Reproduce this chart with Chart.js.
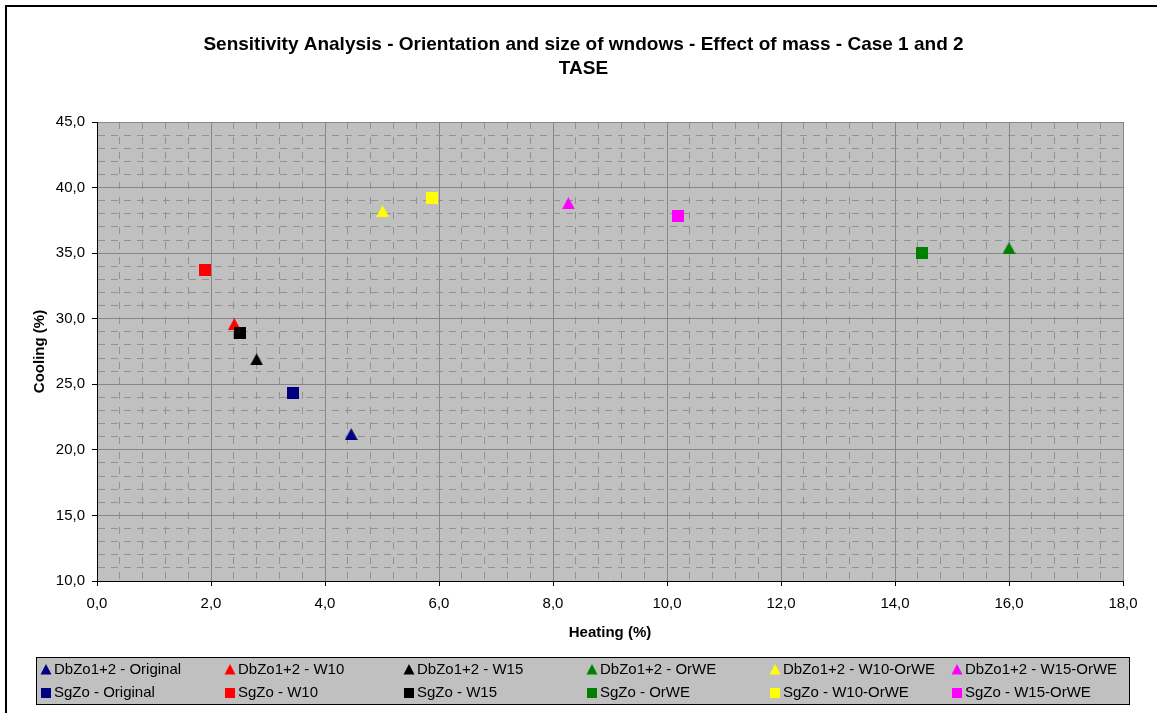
<!DOCTYPE html>
<html>
<head>
<meta charset="utf-8">
<title>Sensitivity Analysis - TASE</title>
<script src="https://cdn.jsdelivr.net/npm/chart.js@4/dist/chart.umd.min.js"></script>
<style>
    html, body { margin: 0; padding: 0; background: #ffffff; }
    #wrap { position: relative; width: 1157px; height: 713px; }
</style>
</head>
<body>
<div id="wrap"><canvas id="myChart"></canvas></div>
<script>
    'use strict';

    // series (one point each), legend order: row 1 = DbZo1+2, row 2 = SgZo
    var seriesNames = [
        'DbZo1+2 - Original', 'DbZo1+2 - W10', 'DbZo1+2 - W15',
        'DbZo1+2 - OrWE', 'DbZo1+2 - W10-OrWE', 'DbZo1+2 - W15-OrWE',
        'SgZo - Original', 'SgZo - W10', 'SgZo - W15',
        'SgZo - OrWE', 'SgZo - W10-OrWE', 'SgZo - W15-OrWE'
    ];
    var heating = [4.46, 2.41, 2.80, 16.00, 5.01, 8.27, 3.44, 1.90, 2.51, 14.47, 5.88, 10.20];
    var cooling = [21.2, 29.6, 26.9, 35.4, 38.2, 38.8, 24.3, 33.7, 28.9, 35.0, 39.2, 37.8];

    var heatingTicks = [0, 2, 4, 6, 8, 10, 12, 14, 16, 18];
    var coolingTicks = [10, 15, 20, 25, 30, 35, 40, 45];

    var seriesColors = [ "#000080", "#FF0000", "#000000", "#008000", "#FFFF00", "#FF00FF",
                         "#000080", "#FF0000", "#000000", "#008000", "#FFFF00", "#FF00FF" ];
    var seriesMarkers = [ 'triangle', 'triangle', 'triangle', 'triangle', 'triangle', 'triangle',
                          'rect', 'rect', 'rect', 'rect', 'rect', 'rect' ];

    var FONT = '"Liberation Sans", Arial, sans-serif';
    Chart.defaults.font.family = FONT;
    Chart.defaults.color = '#000000';

    function isMajor(list, v) {
        var r = Math.round(v * 10) / 10;
        return list.indexOf(r) !== -1;
    }
    function fmt(v) {
        return v.toFixed(1).replace('.', ',');
    }
    function tickValue(ctx) {
        return ctx && ctx.tick ? ctx.tick.value : null;
    }

    // excel-like marker, centred on its bounding box
    function markerCanvas(kind, color, w, h) {
        var cv = document.createElement('canvas');
        cv.width = w;
        cv.height = h;
        var g = cv.getContext('2d');
        g.fillStyle = color;
        g.beginPath();
        if (kind === 'triangle') {
            g.moveTo(w / 2, 0);
            g.lineTo(w, h);
            g.lineTo(0, h);
            g.closePath();
        } else {
            g.rect(0, 0, w, h);
        }
        g.fill();
        return cv;
    }

    var datasets = seriesNames.map(function(name, i) {
        var tri = seriesMarkers[i] === 'triangle';
        return {
            label : name,
            data : [ { x : heating[i], y : cooling[i] } ],
            pointStyle : tri ? markerCanvas('triangle', seriesColors[i], 13, 12) : markerCanvas('rect', seriesColors[i], 12, 12),
            pointRadius : 7,
            markerKind : seriesMarkers[i],
            markerColor : seriesColors[i],
            order : tri ? 1 : 0
        };
    });

    // grey plot area + outer frame + legend box drawn on the canvas
    var legendCols = [ 46, 230, 409, 592, 775, 957 ];
    var legendRows = [ 669.5, 693 ];

    var decor = {
        id : 'decor',
        beforeDraw : function(chart) {
            var a = chart.chartArea, c = chart.ctx;
            c.save();
            c.fillStyle = '#C0C0C0';
            c.fillRect(a.left, a.top, a.right - a.left, a.bottom - a.top);
            c.restore();
        },
        afterDraw : function(chart) {
            var c = chart.ctx;
            c.save();
            c.strokeStyle = '#000000';
            c.lineWidth = 2;
            c.strokeRect(6, 6, 1300, 900);

            c.fillStyle = '#C0C0C0';
            c.fillRect(36, 657, 1093, 47);
            c.lineWidth = 1;
            c.strokeRect(36.5, 657.5, 1093, 47);

            c.font = '15px ' + FONT;
            c.textBaseline = 'middle';
            c.textAlign = 'left';
            chart.data.datasets.forEach(function(ds, i) {
                var x = legendCols[i % 6], y = legendRows[Math.floor(i / 6)];
                c.fillStyle = ds.markerColor;
                c.beginPath();
                if (ds.markerKind === 'triangle') {
                    c.moveTo(x, y - 5.5);
                    c.lineTo(x + 5.5, y + 5);
                    c.lineTo(x - 5.5, y + 5);
                    c.closePath();
                } else {
                    c.rect(x - 5, y - 5, 10, 10);
                }
                c.fill();
                c.fillStyle = '#000000';
                c.fillText(ds.label, x + 8, y);
            });
            c.restore();
        }
    };

    var ctx = document.getElementById('myChart');
    var myChart = new Chart(ctx, {
        type : 'scatter',
        data : { datasets : datasets },
        plugins : [ decor ],
        options : {
            responsive : true,
            maintainAspectRatio : false,
            animation : false,
            events : [],
            layout : { padding : { left : 10, right : 0, top : 0, bottom : 70 } },
            plugins : {
                legend : { display : false },
                tooltip : { enabled : false },
                title : {
                    display : true,
                    text : [ 'Sensitivity Analysis - Orientation and size of wndows - Effect of mass - Case 1 and 2', 'TASE' ],
                    color : '#000000',
                    font : { size : 19, weight : 'bold', lineHeight : 24 / 19 },
                    padding : { top : 33, bottom : 41 }
                }
            },
            scales : {
                x : {
                    type : 'linear',
                    min : heatingTicks[0],
                    max : heatingTicks[heatingTicks.length - 1],
                    afterFit : function(s) { s.height = 62; },
                    ticks : {
                        stepSize : 0.4,
                        maxTicksLimit : 200,
                        autoSkip : false,
                        maxRotation : 0,
                        padding : 9,
                        color : '#000000',
                        font : { size : 15 },
                        callback : function(v) { return isMajor(heatingTicks, v) ? fmt(v) : ''; }
                    },
                    grid : {
                        lineWidth : 1,
                        tickLength : 5,
                        color : function(c) { return isMajor(heatingTicks, tickValue(c)) ? '#868686' : '#929292'; },
                        tickColor : function(c) { return isMajor(heatingTicks, tickValue(c)) ? '#000000' : 'rgba(0,0,0,0)'; }
                    },
                    border : {
                        color : '#000000',
                        width : 1,
                        dash : function(c) { var v = tickValue(c); return v === null || isMajor(heatingTicks, v) ? [] : [ 7, 8 ]; }
                    },
                    title : {
                        display : true,
                        text : 'Heating (%)',
                        color : '#000000',
                        font : { size : 15, weight : 'bold' },
                        padding : { top : 0, bottom : 1 }
                    }
                },
                y : {
                    type : 'linear',
                    min : coolingTicks[0],
                    max : coolingTicks[coolingTicks.length - 1],
                    afterFit : function(s) { s.width = 87; },
                    ticks : {
                        stepSize : 1,
                        maxTicksLimit : 200,
                        autoSkip : false,
                        padding : 7,
                        color : '#000000',
                        font : { size : 15 },
                        callback : function(v) { return isMajor(coolingTicks, v) ? fmt(v) : ''; }
                    },
                    grid : {
                        lineWidth : 1,
                        tickLength : 5,
                        color : function(c) { return isMajor(coolingTicks, tickValue(c)) ? '#868686' : '#929292'; },
                        tickColor : function(c) { return isMajor(coolingTicks, tickValue(c)) ? '#000000' : 'rgba(0,0,0,0)'; }
                    },
                    border : {
                        color : '#000000',
                        width : 1,
                        dash : function(c) { var v = tickValue(c); return v === null || isMajor(coolingTicks, v) ? [] : [ 7, 6 ]; }
                    },
                    title : {
                        display : true,
                        text : 'Cooling (%)',
                        color : '#000000',
                        font : { size : 15, weight : 'bold' },
                        padding : { top : 21, bottom : 0 }
                    }
                },
                // empty right-hand gutter, keeps the plot clear of the frame edge
                gutter : {
                    type : 'linear',
                    position : 'right',
                    afterFit : function(s) { s.width = 34; },
                    ticks : { display : false },
                    grid : { display : false, drawTicks : false },
                    border : { display : false }
                }
            }
        }
    });
</script>
</body>
</html>
